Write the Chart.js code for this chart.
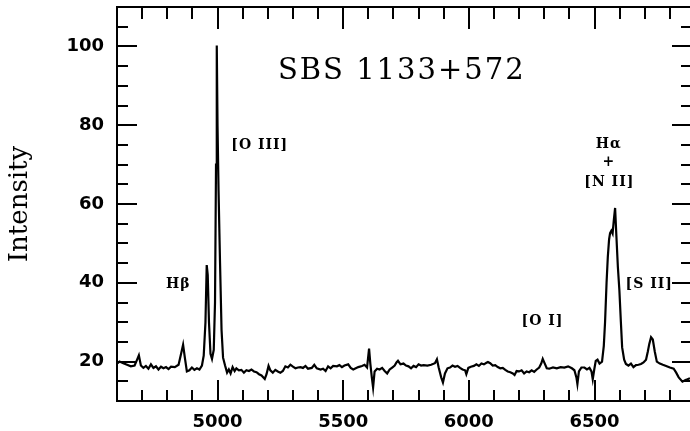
<!DOCTYPE html>
<html>
<head>
<meta charset="utf-8">
<script src="https://cdn.jsdelivr.net/npm/chart.js@4/dist/chart.umd.min.js"></script>
<style>
  html, body { margin: 0; padding: 0; background: #fff; }
  #wrap { width: 690px; height: 431px; }
</style>
</head>
<body>
<div id="wrap"><canvas id="chart"></canvas></div>
<script>
// wavelength (Angstrom) and intensity
const wavelength = [
  4600, 4610, 4625, 4640, 4655, 4670, 4680, 4687, 4695, 4705, 4715, 4725, 4735, 4745, 4755, 4765,
  4775, 4785, 4795, 4805, 4815, 4830, 4845, 4855, 4863, 4870, 4878, 4888, 4898, 4908, 4918, 4928,
  4938, 4945, 4952, 4957, 4961, 4966, 4972, 4978, 4985, 4990, 4994, 4997, 5000, 5004, 5010, 5016,
  5022, 5030, 5038, 5045, 5052, 5060, 5068, 5075, 5085, 5095, 5105, 5115, 5125, 5135, 5145, 5155,
  5165, 5175, 5188, 5195, 5203, 5210, 5220, 5230, 5240, 5250, 5260, 5270, 5280, 5290, 5300, 5310,
  5320, 5330, 5340, 5350, 5360, 5375, 5385, 5395, 5410, 5420, 5430, 5440, 5450, 5460, 5475, 5485,
  5495, 5505, 5520, 5530, 5540, 5550, 5560, 5575, 5585, 5595, 5603, 5608, 5614, 5619, 5625, 5635,
  5645, 5655, 5665, 5675, 5685, 5695, 5705, 5712, 5718, 5728, 5740, 5750, 5760, 5770, 5780, 5790,
  5800, 5810, 5820, 5835, 5850, 5865, 5873, 5880, 5890, 5897, 5905, 5915, 5925, 5935, 5945, 5955,
  5965, 5975, 5985, 5990, 5998, 6008, 6020, 6030, 6040, 6050, 6060, 6070, 6076, 6085, 6095, 6105,
  6115, 6125, 6135, 6145, 6155, 6165, 6175, 6182, 6190, 6200, 6210, 6220, 6230, 6240, 6250, 6260,
  6270, 6280, 6288, 6294, 6300, 6310, 6320, 6335, 6350, 6365, 6380, 6395, 6410, 6420, 6428, 6432,
  6438, 6448, 6460, 6470, 6480, 6488, 6493, 6499, 6505, 6512, 6520, 6530, 6537, 6542, 6548, 6553,
  6558, 6562, 6567, 6572, 6577, 6582, 6587, 6593, 6599, 6605, 6610, 6618, 6625, 6635, 6645, 6655,
  6665, 6675, 6685, 6695, 6705, 6712, 6718, 6725, 6732, 6740, 6748, 6760, 6772, 6785, 6800, 6815,
  6825, 6835, 6850, 6862, 6870, 6880
];
const intensity = [
  19.5, 20.0, 19.6, 19.2, 18.8, 19.0, 20.5, 21.6, 19.0, 18.4, 18.9, 18.2, 19.3, 18.4, 18.8, 18.0,
  18.7, 18.3, 18.6, 18.1, 18.7, 18.6, 19.2, 22.0, 24.3, 21.0, 17.5, 17.8, 18.5, 17.9, 18.3, 18.0,
  19.0, 21.5, 30.0, 44.5, 42.0, 30.0, 22.0, 20.7, 23.0, 35.0, 70.0, 100.2, 80.0, 63.6, 45.0, 28.0,
  21.0, 19.0, 17.2, 18.0, 17.0, 18.6, 17.6, 18.3, 17.8, 17.9, 17.2, 17.8, 17.6, 18.0, 17.5, 17.3,
  16.8, 16.5, 15.6, 16.8, 18.9, 17.8, 17.2, 17.9, 17.5, 17.2, 17.6, 18.8, 18.5, 19.2, 18.7, 18.3,
  18.5, 18.6, 18.4, 18.9, 18.2, 18.4, 19.2, 18.3, 18.0, 18.2, 17.6, 18.8, 18.3, 18.9, 18.8, 19.1,
  18.6, 19.0, 19.3, 18.4, 18.0, 18.3, 18.6, 18.9, 19.2, 18.5, 23.3, 19.5, 16.0, 13.4, 17.5, 18.2,
  18.0, 18.4, 17.6, 17.0, 18.0, 18.5, 19.0, 19.8, 20.2, 19.3, 19.5, 19.0, 18.8, 18.3, 18.9, 18.6,
  19.3, 19.0, 19.1, 19.0, 19.2, 19.6, 20.6, 18.5, 16.0, 14.7, 17.0, 18.3, 18.5, 19.0, 18.7, 18.9,
  18.4, 18.0, 17.8, 16.8, 18.4, 18.7, 18.9, 19.3, 18.9, 19.5, 19.3, 19.7, 19.9, 19.6, 19.0, 19.1,
  18.6, 18.3, 18.4, 17.9, 17.5, 17.3, 17.0, 16.6, 17.6, 17.5, 17.8, 17.0, 17.5, 17.3, 17.8, 17.4,
  18.0, 18.5, 19.5, 20.7, 19.8, 18.3, 18.2, 18.5, 18.3, 18.6, 18.5, 18.8, 18.3, 17.8, 16.0, 14.3,
  17.5, 18.5, 18.5, 18.0, 18.4, 17.5, 15.5, 18.0, 20.2, 20.5, 19.5, 20.0, 24.0, 30.0, 40.0, 46.6,
  51.0, 52.6, 53.2, 52.5, 56.0, 59.0, 52.0, 44.0, 38.1, 30.0, 23.6, 20.5, 19.4, 19.0, 19.5, 18.6,
  19.1, 19.2, 19.4, 19.8, 20.5, 22.5, 24.5, 26.2, 25.6, 22.5, 20.0, 19.5, 19.2, 18.9, 18.5, 18.2,
  17.2, 16.0, 14.9, 15.3, 15.5, 15.8
];

const xTicks = [5000, 5500, 6000, 6500];
const yTicks = [20, 40, 60, 80, 100];

const lineNames = ['H\u03B2', '[O III]', '[O I]', 'H\u03B1', '+', '[N II]', '[S II]'];
const objectName = 'SBS 1133+572';

// where the labels sit, in data units
const labelSpots = [
  { x: 4844, y: 39.6 },
  { x: 5168, y: 74.9 },
  { x: 6293, y: 30.2 },
  { x: 6557, y: 75.1 },
  { x: 6557, y: 70.5 },
  { x: 6559, y: 65.4 },
  { x: 6718, y: 39.6 }
];
const titleSpot = { x: 5733, y: 93.6 };

const points = wavelength.map((w, i) => ({ x: w, y: intensity[i] }));

// inward tick marks on all four sides + frame + labels
const framePlugin = {
  id: 'frame',
  afterDraw(chart) {
    const c = chart.ctx;
    const a = chart.chartArea;
    const xs = chart.scales.x;
    const ys = chart.scales.y;
    c.save();
    c.fillStyle = '#000';
    // frame (right edge is cut off in the scan)
    c.fillRect(a.left - 1, a.top - 1, a.right - a.left + 2, 2);
    c.fillRect(a.left - 1, a.bottom - 1, a.right - a.left + 2, 2);
    c.fillRect(a.left - 1, a.top - 1, 2, a.bottom - a.top + 2);

    for (let w = 4700; w <= 6800; w += 100) {
      const px = Math.round(xs.getPixelForValue(w));
      const len = (w % 500 === 0) ? 21 : 11;
      c.fillRect(px - 1, a.bottom - len, 2, len);
      c.fillRect(px - 1, a.top, 2, len + 1);
    }
    for (let v = 15; v <= 105; v += 5) {
      const py = Math.round(ys.getPixelForValue(v));
      const big = v % 20 === 0;
      const l1 = big ? 20 : 11;
      const l2 = big ? 18 : 9;
      c.fillRect(a.left, py - 1, l1, 2);
      c.fillRect(a.right - l2, py - 1, l2, 2);
    }

    c.textAlign = 'center';
    c.textBaseline = 'middle';
    c.font = 'bold 14px "DejaVu Serif"';
    c.letterSpacing = '1px';
    lineNames.forEach((t, i) => {
      c.fillText(t, xs.getPixelForValue(labelSpots[i].x), ys.getPixelForValue(labelSpots[i].y));
    });

    c.font = '29px "DejaVu Serif"';
    c.letterSpacing = '2px';
    c.fillText(objectName, xs.getPixelForValue(titleSpot.x), ys.getPixelForValue(titleSpot.y));
    c.restore();
  }
};

const ctx = document.getElementById('chart').getContext('2d');
new Chart(ctx, {
  type: 'line',
  data: {
    datasets: [{
      data: points,
      borderColor: '#000',
      borderWidth: 2.2,
      pointRadius: 0,
      tension: 0,
      fill: false
    }]
  },
  options: {
    responsive: true,
    maintainAspectRatio: false,
    animation: false,
    layout: { padding: { top: 7, right: 0, left: 0, bottom: 0 } },
    plugins: {
      legend: { display: false },
      tooltip: { enabled: false }
    },
    scales: {
      x: {
        type: 'linear',
        min: 4600,
        max: 6880,
        afterBuildTicks: (scale) => { scale.ticks = xTicks.map(v => ({ value: v })); },
        afterFit: (scale) => { scale.height = 30; scale.paddingLeft = 0; scale.paddingRight = 0; },
        grid: { display: false, drawTicks: false },
        border: { display: false },
        ticks: {
          padding: 11,
          color: '#000',
          callback: (v) => String(v),
          font: { family: 'DejaVu Sans', size: 18, weight: 'bold' }
        }
      },
      y: {
        min: 10,
        max: 110,
        afterBuildTicks: (scale) => { scale.ticks = yTicks.map(v => ({ value: v })); },
        afterFit: (scale) => { scale.width = 117; scale.paddingTop = 0; scale.paddingBottom = 0; },
        grid: { display: false, drawTicks: false },
        border: { display: false },
        title: {
          display: true,
          text: 'Intensity',
          color: '#000',
          padding: { top: 5, bottom: 0 },
          font: { family: 'DejaVu Serif', size: 26 }
        },
        ticks: {
          padding: 13,
          color: '#000',
          callback: (v) => String(v),
          font: { family: 'DejaVu Sans', size: 18, weight: 'bold' }
        }
      }
    }
  },
  plugins: [framePlugin]
});
</script>
</body>
</html>
